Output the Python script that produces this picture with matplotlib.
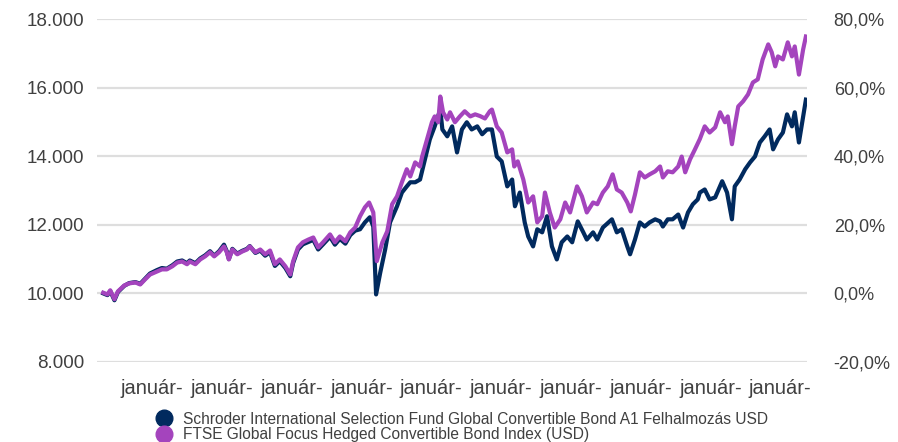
import matplotlib.pyplot as plt
from matplotlib.lines import Line2D
from matplotlib.ticker import FuncFormatter

plt.rcParams['font.family'] = ['Liberation Sans', 'DejaVu Sans']

# decimal years
index_years = [
    2016.30, 2016.36, 2016.40, 2016.46, 2016.51, 2016.60, 2016.67, 2016.76, 2016.83, 2016.90,
    2016.97, 2017.07, 2017.14, 2017.21, 2017.29, 2017.36, 2017.43, 2017.50, 2017.54, 2017.62,
    2017.69, 2017.76, 2017.83, 2017.89, 2017.96, 2018.03, 2018.07, 2018.10, 2018.15, 2018.22,
    2018.29, 2018.36, 2018.40, 2018.48, 2018.55, 2018.62, 2018.69, 2018.76, 2018.83, 2018.91,
    2018.98, 2019.02, 2019.09, 2019.16, 2019.24, 2019.31, 2019.38, 2019.45, 2019.55, 2019.62,
    2019.69, 2019.77, 2019.84, 2019.91, 2019.98, 2020.05, 2020.11, 2020.17, 2020.22, 2020.30,
    2020.37, 2020.44, 2020.51, 2020.58, 2020.65, 2020.70, 2020.77, 2020.84, 2020.87, 2020.94,
    2021.01, 2021.05, 2021.10, 2021.13, 2021.17, 2021.23, 2021.27, 2021.34, 2021.41, 2021.48,
    2021.56, 2021.63, 2021.70, 2021.77, 2021.84, 2021.87, 2021.94, 2022.01, 2022.09, 2022.16,
    2022.19, 2022.24, 2022.32, 2022.39, 2022.46, 2022.52, 2022.59, 2022.63, 2022.70, 2022.77,
    2022.85, 2022.92, 2022.99, 2023.09, 2023.16, 2023.23, 2023.32, 2023.38, 2023.46, 2023.53,
    2023.60, 2023.66, 2023.73, 2023.81, 2023.86, 2023.92, 2023.99, 2024.06, 2024.13, 2024.21,
    2024.28, 2024.32, 2024.39, 2024.46, 2024.54, 2024.59, 2024.64, 2024.71, 2024.78, 2024.85,
    2024.92, 2024.99, 2025.07, 2025.14, 2025.21, 2025.25, 2025.31, 2025.35, 2025.40, 2025.47,
    2025.54, 2025.61, 2025.68, 2025.75, 2025.83, 2025.88, 2025.93, 2025.97, 2026.04, 2026.11,
    2026.17, 2026.21, 2026.27, 2026.33, 2026.37,
]
index_values = [
    10020, 9970, 10090, 9830, 10060, 10230, 10290, 10320, 10260, 10410,
    10550, 10640, 10700, 10700, 10790, 10900, 10930, 10850, 10930, 10850,
    10990, 11080, 11200, 11080, 11200, 11370, 11200, 10990, 11280, 11140,
    11220, 11280, 11370, 11200, 11280, 11140, 11250, 10850, 10990, 10790,
    10550, 10930, 11340, 11490, 11570, 11630, 11340, 11490, 11720, 11490,
    11660, 11520, 11780, 11920, 12250, 12510, 12650, 12360, 10940, 11490,
    11810, 12600, 12830, 13240, 13620, 13410, 13820, 13700, 13990, 14490,
    14990, 15160, 14990, 15740, 15280, 15070, 15280, 14990, 15160, 15310,
    15160, 15220, 15170, 15100, 15310, 15360, 14870, 14690, 14110, 14200,
    13700, 13850, 13320, 12650, 12830, 12070, 12250, 12940, 12360, 11920,
    12160, 12650, 12360, 13120, 12830, 12360, 12650, 12600, 12940, 13120,
    13470, 13030, 12940, 12650, 12390, 12880, 13530, 13380, 13470, 13560,
    13700, 13380, 13560, 13530, 13700, 13990, 13530, 13910, 14200, 14500,
    14870, 14690, 14840, 15280, 14990, 15160, 14350, 14870, 15450, 15600,
    15800, 16150, 16240, 16820, 17260, 17030, 16620, 16910, 16820, 17320,
    16910, 17200, 16380, 17110, 17490,
]

fund_years = [
    2016.30, 2016.36, 2016.40, 2016.46, 2016.51, 2016.60, 2016.67, 2016.76, 2016.83, 2016.90,
    2016.97, 2017.07, 2017.14, 2017.21, 2017.29, 2017.36, 2017.43, 2017.50, 2017.54, 2017.62,
    2017.69, 2017.76, 2017.83, 2017.89, 2017.96, 2018.03, 2018.07, 2018.10, 2018.15, 2018.22,
    2018.29, 2018.36, 2018.40, 2018.48, 2018.55, 2018.62, 2018.69, 2018.76, 2018.83, 2018.91,
    2018.98, 2019.02, 2019.09, 2019.16, 2019.24, 2019.31, 2019.38, 2019.45, 2019.55, 2019.62,
    2019.69, 2019.77, 2019.84, 2019.91, 2019.98, 2020.05, 2020.12, 2020.17, 2020.21, 2020.27,
    2020.34, 2020.41, 2020.51, 2020.58, 2020.65, 2020.70, 2020.77, 2020.84, 2020.91, 2020.98,
    2021.05, 2021.13, 2021.16, 2021.23, 2021.30, 2021.37, 2021.44, 2021.51, 2021.58, 2021.66,
    2021.73, 2021.80, 2021.87, 2021.94, 2022.01, 2022.09, 2022.16, 2022.20, 2022.27, 2022.34,
    2022.39, 2022.46, 2022.52, 2022.59, 2022.66, 2022.73, 2022.80, 2022.87, 2022.95, 2023.02,
    2023.10, 2023.18, 2023.23, 2023.32, 2023.38, 2023.46, 2023.59, 2023.66, 2023.73, 2023.81,
    2023.85, 2023.92, 2023.99, 2024.06, 2024.13, 2024.21, 2024.28, 2024.32, 2024.39, 2024.46,
    2024.54, 2024.61, 2024.68, 2024.75, 2024.82, 2024.85, 2024.92, 2024.99, 2025.07, 2025.17,
    2025.24, 2025.31, 2025.35, 2025.42, 2025.50, 2025.57, 2025.64, 2025.71, 2025.78, 2025.85,
    2025.90, 2025.97, 2026.04, 2026.10, 2026.17, 2026.21, 2026.27, 2026.33, 2026.37,
]
fund_values = [
    10000, 9950, 10070, 9800, 10040, 10220, 10300, 10330, 10280, 10430,
    10580, 10680, 10740, 10720, 10820, 10930, 10960, 10880, 10960, 10880,
    11020, 11110, 11230, 11100, 11230, 11420, 11230, 11000, 11300, 11160,
    11240, 11300, 11380, 11180, 11250, 11100, 11200, 10800, 10940, 10740,
    10500, 10880, 11280, 11430, 11500, 11560, 11280, 11430, 11650, 11420,
    11590, 11450, 11700, 11830, 11870, 12070, 12220, 11950, 9970, 10610,
    11280, 12070, 12540, 12940, 13120, 13240, 13240, 13320, 13910, 14490,
    14870, 15360, 14780, 14580, 14870, 14110, 14780, 14990, 14780, 14870,
    14640, 14780, 14780, 13990, 13850, 13120, 13320, 12540, 12940, 12070,
    11660, 11370, 11870, 11780, 12250, 11370, 10990, 11490, 11660, 11490,
    12100, 11780, 11570, 11780, 11570, 11920, 12160, 11780, 11870, 11370,
    11140, 11570, 12070, 11950, 12070, 12160, 12100, 11950, 12160, 12160,
    12300, 11920, 12360, 12600, 12740, 12940, 13030, 12740, 12800, 13270,
    12940, 12160, 13120, 13320, 13620, 13820, 13990, 14400, 14580, 14780,
    14200, 14490, 14690, 15220, 14870, 15280, 14400, 15160, 15650,
]

tick_years = [2017, 2018, 2019, 2020, 2021, 2022, 2023, 2024, 2025, 2026]
tick_labels = ['január-'] * len(tick_years)
fund_name = 'Schroder International Selection Fund Global Convertible Bond A1 Felhalmozás USD'
index_name = 'FTSE Global Focus Hedged Convertible Bond Index (USD)'

navy = '#012a5e'
purple = '#a444bd'
text_col = '#404040'

fig = plt.figure(figsize=(8.98, 4.42), dpi=100)
ax = fig.add_axes([0.108, 0.181, 0.791, 0.776])

for y in range(8000, 18001, 2000):
    ax.axhline(y, color='#dedede', lw=1.6, zorder=0)

ax.plot(fund_years, fund_values, color=navy, lw=3, solid_joinstyle='round', zorder=2)
ax.plot(index_years, index_values, color=purple, lw=3, solid_joinstyle='round', zorder=3)

ax.set_xlim(2016.21, 2026.39)
ax.set_ylim(8000, 18000)
ax.set_yticks(range(8000, 18001, 2000))
ax.yaxis.set_major_formatter(FuncFormatter(lambda v, p: f'{int(v):,}'.replace(',', '.')))
ax.set_xticks(tick_years)
ax.set_xticklabels(tick_labels)
ax.tick_params(axis='y', length=0, labelsize=13.5, colors=text_col, pad=9)
ax.tick_params(axis='x', length=0, labelsize=14.5, colors=text_col, pad=12)
for s in ax.spines.values():
    s.set_visible(False)

ax2 = ax.twinx()
ax2.set_ylim(-0.2, 0.8)
ax2.set_yticks([-0.2, 0.0, 0.2, 0.4, 0.6, 0.8])
ax2.yaxis.set_major_formatter(FuncFormatter(lambda v, p: f'{v * 100:.1f}%'.replace('.', ',')))
ax2.tick_params(axis='y', length=0, labelsize=13, colors=text_col, pad=19)
for s in ax2.spines.values():
    s.set_visible(False)

handles = [
    Line2D([], [], ls='none', marker='o', markersize=12, color=navy),
    Line2D([], [], ls='none', marker='o', markersize=12, color=purple),
]
fig.legend(handles, [fund_name, index_name], loc='upper left',
           bbox_to_anchor=(0.174, 0.068), frameon=False, fontsize=11.2,
           labelcolor=text_col, handletextpad=0.75, labelspacing=0.02,
           borderpad=0, handlelength=1.0, borderaxespad=0)

fig.savefig('out.png', dpi=100)
